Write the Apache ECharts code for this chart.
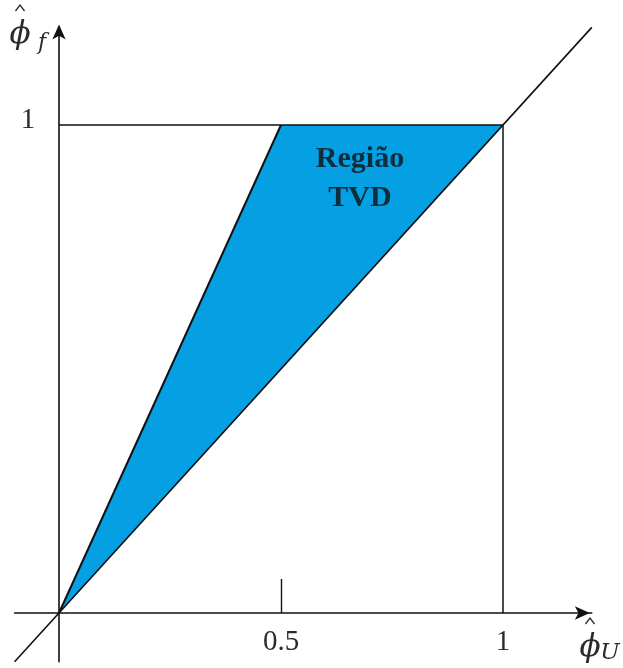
<!DOCTYPE html>
<html>
<head>
<meta charset="utf-8">
<script src="https://cdn.jsdelivr.net/npm/echarts@6/dist/echarts.min.js"></script>
<style>
  html, body { margin: 0; padding: 0; background: #fff; }
  #chart { width: 623px; height: 668px; }
</style>
</head>
<body>
<div id="chart"></div>
<script>
// Axis extents (normalised variables)
const axisMin = -0.1;
const axisMax = 1.2;

// Tick labels
const xTickValues = [0.5, 1];
const xTickLabels = ['0.5', '1'];
const yTickValues = [1];
const yTickLabels = ['1'];

// TVD region polygon vertices (phiU, phif)
const tvdX = [0, 0.5, 1];
const tvdY = [0, 1, 1];

// Bounding lines
const diagX = [-0.1, 1.2];        // phif = phiU
const diagY = [-0.1, 1.2];
const steepX = [0, 0.5];          // phif = 2 phiU
const steepY = [0, 1];
const boxX = [0, 1, 1];           // phif = 1 and phiU = 1
const boxY = [1, 1, 0];

// Region caption anchor
const captionX = [0.678];
const captionY = [0.89];

const zip = (xs, ys) => xs.map((x, i) => [x, ys[i]]);

const chart = echarts.init(document.getElementById('chart'), null, { renderer: 'canvas' });

const lineColor = '#111';
const textColor = '#2b2b2b';
const labelFont = { fontFamily: 'Liberation Serif', fontSize: 29, fill: textColor };

const lineSeries = (data, width) => ({
  type: 'line',
  data: data,
  symbol: 'none',
  silent: true,
  animation: false,
  lineStyle: { color: lineColor, width: width },
  z: 3
});

// Axis name: italic phi with a hat and a subscript, centred on (cx, cy)
const axisName = (cx, cy, sub, subDx, subDy, subSize) => ([
  {
    type: 'text', x: cx, y: cy,
    style: { text: '\u03D5', fontFamily: 'DejaVu Serif', fontStyle: 'italic', fontSize: 31,
      fill: textColor, align: 'center', verticalAlign: 'middle' }
  },
  {
    type: 'polyline',
    shape: { points: [[cx - 4.5, cy - 24], [cx, cy - 30], [cx + 4.5, cy - 24]] },
    style: { stroke: textColor, lineWidth: 1.3, fill: null }
  },
  {
    type: 'text', x: cx + subDx, y: cy + subDy,
    style: { text: sub, fontFamily: 'DejaVu Serif', fontStyle: 'italic', fontSize: subSize,
      fill: textColor, align: 'center', verticalAlign: 'middle' }
  }
]);

chart.setOption({
  animation: false,
  backgroundColor: '#fff',
  grid: { left: 14.6, right: 31.2, top: 27.4, bottom: 6.2, containLabel: false, outerBoundsMode: 'none' },
  xAxis: {
    type: 'value',
    min: axisMin,
    max: axisMax,
    splitLine: { show: false },
    axisLine: {
      onZero: true,
      lineStyle: { color: lineColor, width: 1.6 },
      symbol: ['none', 'arrow'],
      symbolSize: [10, 15],
      symbolOffset: [0, -2]
    },
    axisTick: {
      show: true,
      inside: true,
      length: 34,
      customValues: [0.5],
      lineStyle: { color: lineColor, width: 1.4 }
    },
    axisLabel: { show: false }
  },
  yAxis: {
    type: 'value',
    min: axisMin,
    max: axisMax,
    splitLine: { show: false },
    axisLine: {
      onZero: true,
      lineStyle: { color: lineColor, width: 1.6 },
      symbol: ['none', 'arrow'],
      symbolSize: [10, 15],
      symbolOffset: [0, 3]
    },
    axisTick: { show: false },
    axisLabel: { show: false }
  },
  series: [
    {
      type: 'custom',
      silent: true,
      z: 1,
      data: [0],
      renderItem: (params, api) => ({
        type: 'polygon',
        shape: { points: zip(tvdX, tvdY).map(p => api.coord(p)) },
        style: { fill: '#05a0e3', stroke: 'none' }
      })
    },
    lineSeries(zip(diagX, diagY), 1.6),
    lineSeries(zip(steepX, steepY), 2),
    lineSeries(zip(boxX, boxY), 1.5),
    {
      type: 'scatter',
      silent: true,
      symbolSize: 0,
      data: zip(captionX, captionY),
      z: 4,
      label: {
        show: true,
        position: 'inside',
        formatter: 'Região\nTVD',
        fontFamily: 'Liberation Serif',
        fontWeight: 'bold',
        fontSize: 30,
        lineHeight: 39,
        align: 'center',
        color: '#111'
      }
    }
  ]
});

// Tick labels placed through the axis scales
const origin = chart.convertToPixel({ gridIndex: 0 }, [0, 0]);
const tickTexts = [];
xTickValues.forEach((v, i) => {
  const p = chart.convertToPixel({ gridIndex: 0 }, [v, 0]);
  tickTexts.push({
    type: 'text', x: p[0], y: origin[1] + 29,
    style: Object.assign({ text: xTickLabels[i], align: 'center', verticalAlign: 'middle' }, labelFont)
  });
});
yTickValues.forEach((v, i) => {
  const p = chart.convertToPixel({ gridIndex: 0 }, [0, v]);
  tickTexts.push({
    type: 'text', x: origin[0] - 31, y: p[1] - 5,
    style: Object.assign({ text: yTickLabels[i], align: 'center', verticalAlign: 'middle' }, labelFont)
  });
});

chart.setOption({
  graphic: [
    ...tickTexts,
    ...axisName(20, 35, 'f', 22, 8, 22),
    ...axisName(590, 648, 'U', 20, 5, 23)
  ]
});
</script>
</body>
</html>
